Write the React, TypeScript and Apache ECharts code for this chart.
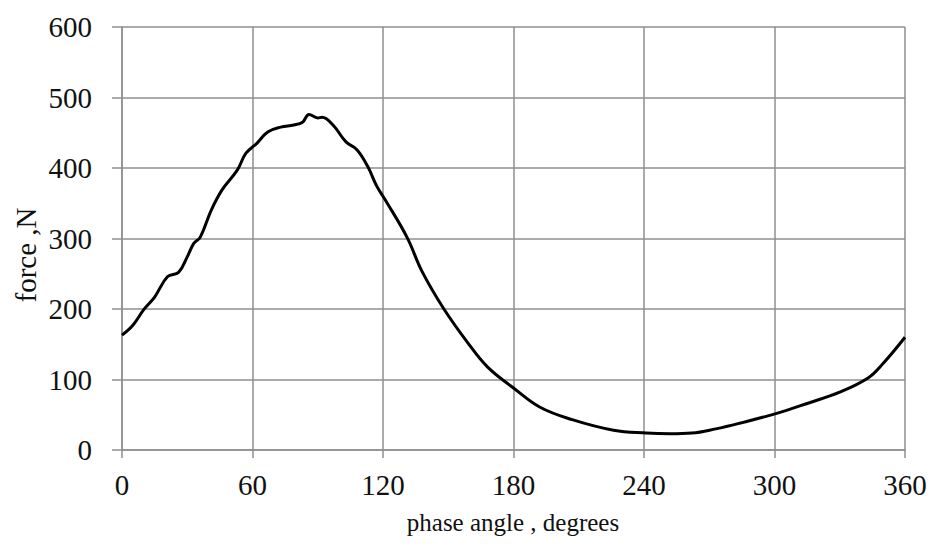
import React, { useEffect, useRef } from "react";
import * as echarts from "echarts";

const phaseAngle = [0, 5, 10, 15, 21, 26, 30, 33, 36, 41, 46, 53, 57, 62, 67, 73, 79, 83, 86, 90, 92, 97, 103, 108, 113, 117, 121, 131, 138, 148, 159, 168, 180, 192, 207, 226, 241, 252, 262, 273, 284, 301, 315, 330, 343, 350, 360];
const force = [163, 177, 199, 217, 246, 252, 274, 293, 302, 340, 369, 397, 421, 435, 451, 458, 461, 465, 476, 471, 472, 461, 437, 426, 402, 375, 355, 302, 253, 200, 152, 118, 88, 61, 43, 28, 24, 23, 24, 30, 38, 52, 66, 82, 102, 123, 160];

const xTicks = [0, 60, 120, 180, 240, 300, 360];
const yTicks = [0, 100, 200, 300, 400, 500, 600];
const xTitle = "phase angle , degrees";
const yTitle = "force ,N";

const FONT = '"Liberation Serif", "Times New Roman", serif';
const GRID = "#8f8f8f";

export default function App() {
  const ref = useRef<HTMLDivElement>(null);
  useEffect(() => {
    if (!ref.current) return;
    const chart = echarts.init(ref.current, undefined, { renderer: "svg" });
    const data = phaseAngle.map((a, i) => [a, force[i]]);
    chart.setOption({
      animation: false,
      backgroundColor: "#ffffff",
      grid: { left: 122, right: 30, top: 27, bottom: 97, containLabel: false },
      xAxis: {
        type: "value",
        min: xTicks[0],
        max: xTicks[xTicks.length - 1],
        interval: 60,
        axisLine: { show: true, lineStyle: { color: GRID, width: 1.5 } },
        axisTick: { show: true, length: 8, inside: false, lineStyle: { color: GRID, width: 1.5 } },
        splitLine: { show: true, lineStyle: { color: GRID, width: 1.5 } },
        axisLabel: { color: "#111111", fontFamily: FONT, fontSize: 29, margin: 20 },
      },
      yAxis: {
        type: "value",
        min: yTicks[0],
        max: yTicks[yTicks.length - 1],
        interval: 100,
        axisLine: { show: true, lineStyle: { color: GRID, width: 1.5 } },
        axisTick: { show: true, length: 10, inside: false, lineStyle: { color: GRID, width: 1.5 } },
        splitLine: { show: true, lineStyle: { color: GRID, width: 1.5 } },
        axisLabel: { color: "#111111", fontFamily: FONT, fontSize: 29, margin: 30 },
      },
      graphic: [
        {
          type: "text",
          x: 513,
          y: 522,
          style: {
            text: xTitle,
            font: `25px ${FONT}`,
            fill: "#111111",
            align: "center",
            verticalAlign: "middle",
          },
        },
        {
          type: "text",
          x: 26,
          y: 255,
          rotation: Math.PI / 2,
          style: {
            text: yTitle,
            font: `29px ${FONT}`,
            fill: "#111111",
            align: "center",
            verticalAlign: "middle",
          },
        },
      ],
      series: [
        {
          type: "line",
          data,
          smooth: 0.4,
          showSymbol: false,
          lineStyle: { color: "#000000", width: 3 },
        },
      ],
    });
    return () => chart.dispose();
  }, []);
  return (
    <div
      ref={ref}
      style={{ position: "fixed", left: 0, top: 0, width: 935, height: 547, background: "#fff" }}
    />
  );
}
